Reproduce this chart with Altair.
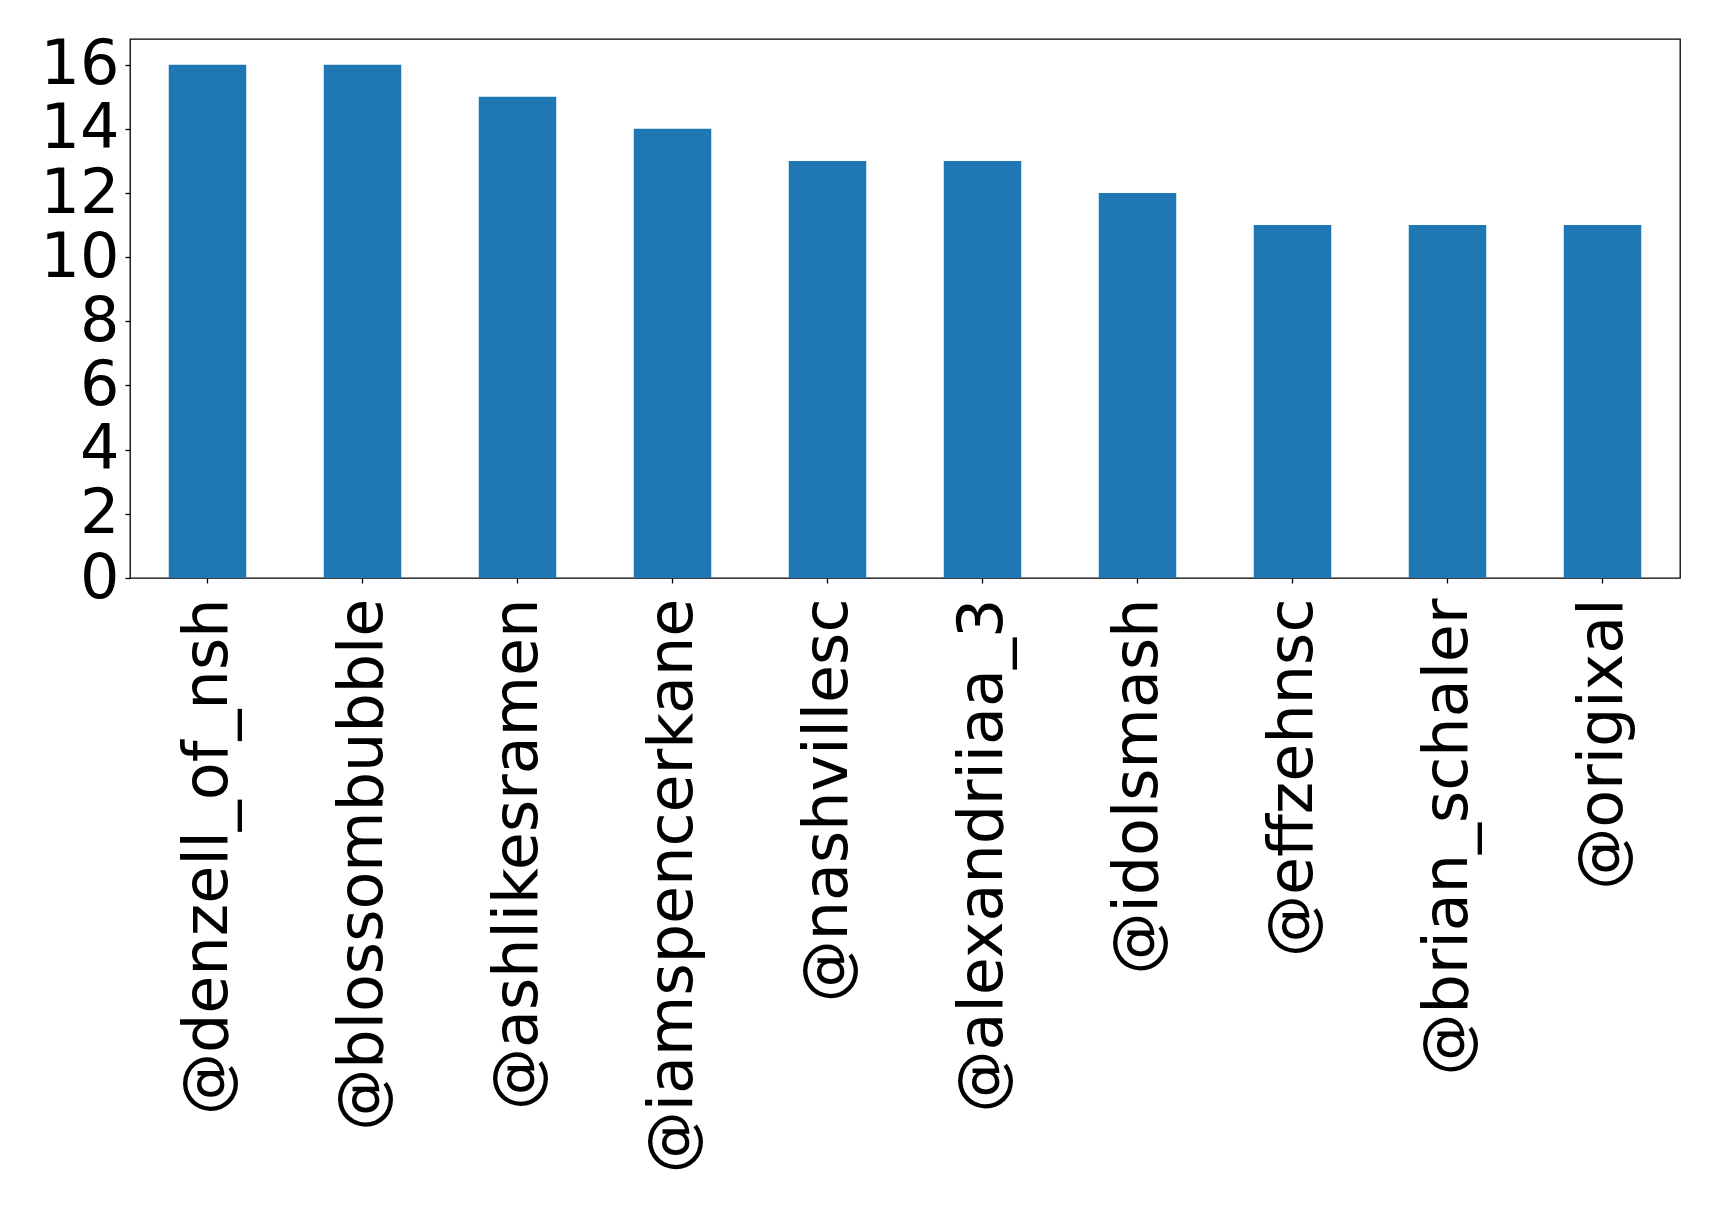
import altair as alt
import pandas as pd

users = ["@denzell_of_nsh", "@blossombubble", "@ashlikesramen", "@iamspencerkane",
         "@nashvillesc", "@alexandriiaa_3", "@idolsmash", "@effzehnsc",
         "@brian_schaler", "@origixal"]
counts = [16, 16, 15, 14, 13, 13, 12, 11, 11, 11]

df = pd.DataFrame({"user": users, "count": counts})

font = "DejaVu Sans"

chart = alt.Chart(df).mark_bar(color="#1f77b4").encode(
    x=alt.X("user:N", sort=users, title=None,
            scale=alt.Scale(paddingInner=0.5, paddingOuter=0.25),
            axis=alt.Axis(labelAngle=270, labelAlign="right", labelBaseline="middle",
                          labelFont=font, labelFontSize=62, labelColor="black",
                          labelLimit=2000, labelPadding=15, tickSize=5,
                          tickColor="black", tickWidth=1.3, domain=False, grid=False)),
    y=alt.Y("count:Q", title=None,
            scale=alt.Scale(domain=[0, 16.8], nice=False, zero=True),
            axis=alt.Axis(values=list(range(0, 17, 2)), labelFont=font, labelFontSize=62,
                          labelColor="black", labelPadding=6, tickSize=5,
                          tickColor="black", tickWidth=1.3, domain=False, grid=False,
                          labelLimit=500, labelOverlap=False)),
).properties(
    width=1550,
    height=539,
    autosize=alt.AutoSizeParams(type="none"),
    padding={"left": 122, "top": 31, "right": 31, "bottom": 621},
).configure_view(
    stroke="black", strokeWidth=1.3
)

chart.save("out.html", embed_options={"renderer": "svg", "actions": False})
